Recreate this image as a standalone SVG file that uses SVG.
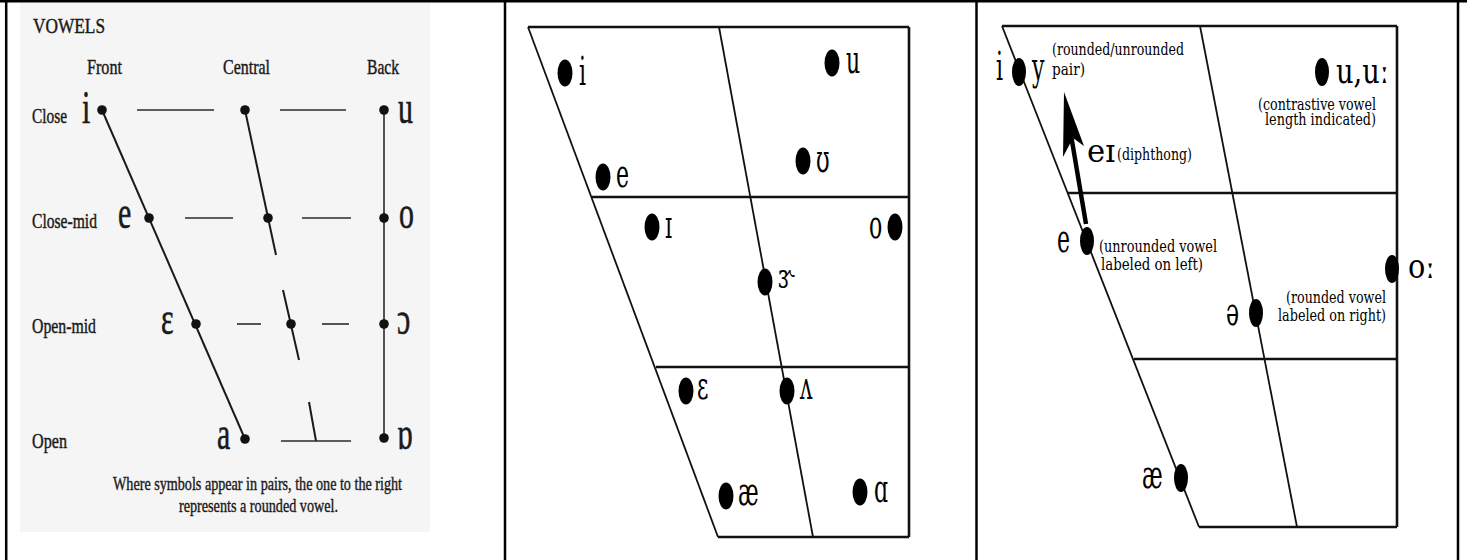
<svg xmlns="http://www.w3.org/2000/svg" width="1467" height="560" viewBox="0 0 1467 560">
<defs>
<style>
.frame{stroke:#000;stroke-width:2.5;fill:none}
.p1l{stroke:#1a1a1a;stroke-width:2;fill:none}
.p1h{stroke:#2a2a2a;stroke-width:1.6;fill:none}
.ch{stroke:#111;stroke-width:2.6;fill:none}
.cs{stroke:#111;stroke-width:1.8;fill:none}
.d1{fill:#111}
.d{fill:#000}
.t1{font-family:"Liberation Serif","Times New Roman",serif;font-size:22px;fill:#1a1a1a;stroke:#1a1a1a;stroke-width:0.45}
.cap{font-family:"Liberation Serif","Times New Roman",serif;font-size:19px;fill:#1a1a1a;stroke:#1a1a1a;stroke-width:0.4}
.g1{font-family:"Liberation Serif","Times New Roman",serif;font-size:46px;fill:#1a1a1a;stroke:#1a1a1a;stroke-width:0.6}
.v{font-family:"DejaVu Serif","Liberation Serif",serif;font-size:40px;fill:#000}
.n{font-family:"DejaVu Serif","Liberation Serif",serif;font-size:17px;fill:#000}
</style>
</defs>
<rect x="0" y="0" width="1467" height="560" fill="#fff"/>
<g id="frame">
<line class="frame" x1="0" y1="1.2" x2="1467" y2="1.2"/>
<line class="frame" x1="6.2" y1="0" x2="6.2" y2="560"/>
<line class="frame" x1="505" y1="0" x2="505" y2="560"/>
<line class="frame" x1="976.5" y1="0" x2="976.5" y2="560"/>
<line class="frame" x1="1458" y1="0" x2="1458" y2="560"/>
</g>
<!-- Panel 1 -->
<rect x="20" y="3" width="410" height="529" fill="#f5f5f5"/>
<g id="p1-titles">
<text class="t1" x="33" y="33" textLength="72" lengthAdjust="spacingAndGlyphs">VOWELS</text>
<text class="t1" x="87" y="74" textLength="35" lengthAdjust="spacingAndGlyphs">Front</text>
<text class="t1" x="223" y="74" textLength="47" lengthAdjust="spacingAndGlyphs">Central</text>
<text class="t1" x="367" y="74" textLength="32" lengthAdjust="spacingAndGlyphs">Back</text>
<text class="t1" x="32" y="123" textLength="35" lengthAdjust="spacingAndGlyphs">Close</text>
<text class="t1" x="32" y="228" textLength="65" lengthAdjust="spacingAndGlyphs">Close-mid</text>
<text class="t1" x="32" y="333" textLength="64" lengthAdjust="spacingAndGlyphs">Open-mid</text>
<text class="t1" x="32" y="448" textLength="35" lengthAdjust="spacingAndGlyphs">Open</text>
<text class="cap" x="113" y="490" textLength="289" lengthAdjust="spacingAndGlyphs">Where symbols appear in pairs, the one to the right</text>
<text class="cap" x="179" y="512" textLength="159" lengthAdjust="spacingAndGlyphs">represents a rounded vowel.</text>
</g>
<g id="p1-lines">
<line class="p1l" x1="102" y1="110" x2="245" y2="439"/>
<line class="p1l" x1="245" y1="110" x2="276" y2="255"/>
<line class="p1l" x1="283" y1="290" x2="299" y2="360"/>
<line class="p1l" x1="309" y1="402" x2="316" y2="441"/>
<line class="p1h" x1="384" y1="110" x2="384" y2="438"/>
<line class="p1h" x1="137" y1="110" x2="214" y2="110"/>
<line class="p1h" x1="280" y1="110" x2="346" y2="110"/>
<line class="p1h" x1="185" y1="218" x2="233" y2="218"/>
<line class="p1h" x1="302" y1="218" x2="351" y2="218"/>
<line class="p1h" x1="237" y1="324" x2="261" y2="324"/>
<line class="p1h" x1="322" y1="324" x2="349" y2="324"/>
<line class="p1h" x1="281" y1="441" x2="351" y2="441"/>
</g>
<g id="p1-i"><circle class="d1" cx="102" cy="110" r="4.8"/><text class="g1" transform="translate(82 123) scale(0.65 1)">i</text></g>
<g id="p1-close-central"><circle class="d1" cx="245" cy="110" r="4.8"/></g>
<g id="p1-u"><circle class="d1" cx="384" cy="110" r="4.8"/><text class="g1" transform="translate(398 123) scale(0.65 1)">u</text></g>
<g id="p1-e"><circle class="d1" cx="149" cy="218" r="4.8"/><text class="g1" transform="translate(118 228) scale(0.65 1)">e</text></g>
<g id="p1-closemid-central"><circle class="d1" cx="268" cy="218" r="4.8"/></g>
<g id="p1-o"><circle class="d1" cx="384" cy="218" r="4.8"/><text class="g1" transform="translate(399 228) scale(0.65 1)">o</text></g>
<g id="p1-eps"><circle class="d1" cx="196" cy="324" r="4.8"/><text class="g1" transform="translate(161 334) scale(0.65 1)">ε</text></g>
<g id="p1-openmid-central"><circle class="d1" cx="291" cy="324" r="4.8"/></g>
<g id="p1-open-o"><circle class="d1" cx="384" cy="324" r="4.8"/><text class="g1" transform="translate(397 334) scale(0.65 1)">ɔ</text></g>
<g id="p1-a"><circle class="d1" cx="245" cy="439" r="4.8"/><text class="g1" transform="translate(217 449) scale(0.65 1)">a</text></g>
<g id="p1-turned-a"><circle class="d1" cx="384" cy="438" r="4.8"/><text class="g1" transform="translate(397 449) scale(0.65 1)">ɒ</text></g>
<!-- Panel 2 -->
<g id="p2-grid">
<line class="ch" x1="528" y1="27" x2="909" y2="27"/>
<line class="ch" x1="592" y1="197" x2="909" y2="197"/>
<line class="ch" x1="656" y1="367" x2="909" y2="367"/>
<line class="ch" x1="718" y1="537" x2="909" y2="537"/>
<line class="ch" x1="909" y1="27" x2="909" y2="537"/>
<line class="cs" x1="528" y1="27" x2="718" y2="537"/>
<line class="cs" x1="719" y1="27" x2="813" y2="537"/>
</g>
<g id="p2-i"><ellipse class="d" cx="565" cy="73" rx="7.5" ry="13.5"/><text class="v" transform="translate(579 85) scale(0.55 1)">i</text></g>
<g id="p2-e"><ellipse class="d" cx="603" cy="177" rx="7.5" ry="13.5"/><text class="v" transform="translate(616 187) scale(0.55 1)">e</text></g>
<g id="p2-u"><ellipse class="d" cx="832" cy="63" rx="7.5" ry="13.5"/><text class="v" transform="translate(846 73) scale(0.55 1)">u</text></g>
<g id="p2-upsilon"><ellipse class="d" cx="803" cy="161" rx="7.5" ry="13.5"/><text class="v" transform="translate(816 172) scale(0.55 1)">ʊ</text></g>
<g id="p2-smallcapI"><ellipse class="d" cx="652" cy="227" rx="7.5" ry="13.5"/><text class="v" transform="translate(665 238) scale(0.55 1)">ɪ</text></g>
<g id="p2-o"><ellipse class="d" cx="895" cy="227" rx="7.5" ry="13.5"/><text class="v" transform="translate(869 238) scale(0.55 1)">o</text></g>
<g id="p2-schwar"><ellipse class="d" cx="765" cy="282" rx="7.5" ry="13.5"/><text class="v" style="font-size:34px" transform="translate(778 288) scale(0.6 1)">ɝ</text></g>
<g id="p2-epsilon"><ellipse class="d" cx="686" cy="391" rx="7.5" ry="13.5"/><text class="v" transform="translate(697 399) scale(0.55 1)">ɛ</text></g>
<g id="p2-wedge"><ellipse class="d" cx="787" cy="391" rx="7.5" ry="13.5"/><text class="v" transform="translate(800 399) scale(0.55 1)">ʌ</text></g>
<g id="p2-ae"><ellipse class="d" cx="726" cy="496" rx="7.5" ry="13.5"/><text class="v" transform="translate(738 505) scale(0.55 1)">æ</text></g>
<g id="p2-alpha"><ellipse class="d" cx="860" cy="492" rx="7.5" ry="13.5"/><text class="v" transform="translate(874 502) scale(0.55 1)">ɑ</text></g>
<!-- Panel 3 -->
<g id="p3-grid">
<line class="ch" x1="1002" y1="26" x2="1397" y2="26"/>
<line class="ch" x1="1068" y1="193" x2="1397" y2="193"/>
<line class="ch" x1="1134" y1="359" x2="1397" y2="359"/>
<line class="ch" x1="1199" y1="527" x2="1397" y2="527"/>
<line class="ch" x1="1397" y1="26" x2="1397" y2="527"/>
<line class="cs" x1="1002" y1="26" x2="1199" y2="527"/>
<line class="cs" x1="1200" y1="26" x2="1297" y2="527"/>
</g>
<g id="p3-connectors">
<line x1="1086" y1="224" x2="1071" y2="135" stroke="#000" stroke-width="4.5"/>
<polygon points="1064,92 1084,146 1073,138 1063,157" fill="#000"/>
</g>
<g id="p3-iy">
<ellipse class="d" cx="1019" cy="72" rx="7" ry="14"/>
<text class="v" transform="translate(996 80) scale(0.55 1)">i</text>
<text class="v" transform="translate(1032 80) scale(0.55 1)">y</text>
<text class="n" x="1052" y="55" textLength="132" lengthAdjust="spacingAndGlyphs">(rounded/unrounded</text>
<text class="n" x="1052" y="75" textLength="33" lengthAdjust="spacingAndGlyphs">pair)</text>
</g>
<g id="p3-uu">
<ellipse class="d" cx="1322" cy="72" rx="7" ry="14"/>
<text class="v" x="1336" y="83" style="font-size:36px" textLength="53" lengthAdjust="spacingAndGlyphs">u,uː</text>
<text class="n" x="1258" y="110" textLength="118" lengthAdjust="spacingAndGlyphs">(contrastive vowel</text>
<text class="n" x="1265" y="125" textLength="111" lengthAdjust="spacingAndGlyphs">length indicated)</text>
</g>
<g id="p3-ei">
<text class="v" x="1087" y="162" style="font-size:32px" textLength="28" lengthAdjust="spacingAndGlyphs">eɪ</text>
<text class="n" x="1117" y="160" textLength="75" lengthAdjust="spacingAndGlyphs">(diphthong)</text>
</g>
<g id="p3-e">
<ellipse class="d" cx="1087" cy="241" rx="7" ry="14"/>
<text class="v" transform="translate(1057 252) scale(0.55 1)">e</text>
<text class="n" x="1099" y="252" textLength="118" lengthAdjust="spacingAndGlyphs">(unrounded vowel</text>
<text class="n" x="1101" y="270" textLength="102" lengthAdjust="spacingAndGlyphs">labeled on left)</text>
</g>
<g id="p3-oo">
<ellipse class="d" cx="1392" cy="269" rx="7" ry="14"/>
<text class="v" x="1408" y="278" style="font-size:34px" textLength="27" lengthAdjust="spacingAndGlyphs">oː</text>
</g>
<g id="p3-schwa">
<ellipse class="d" cx="1256" cy="313" rx="7" ry="14"/>
<text class="v" transform="translate(1226 325) scale(0.55 1)">ə</text>
<text class="n" x="1286" y="303" textLength="100" lengthAdjust="spacingAndGlyphs">(rounded vowel</text>
<text class="n" x="1278" y="321" textLength="108" lengthAdjust="spacingAndGlyphs">labeled on right)</text>
</g>
<g id="p3-ae">
<ellipse class="d" cx="1181" cy="478" rx="7" ry="14"/>
<text class="v" transform="translate(1142 488) scale(0.55 1)">æ</text>
</g>
</svg>
